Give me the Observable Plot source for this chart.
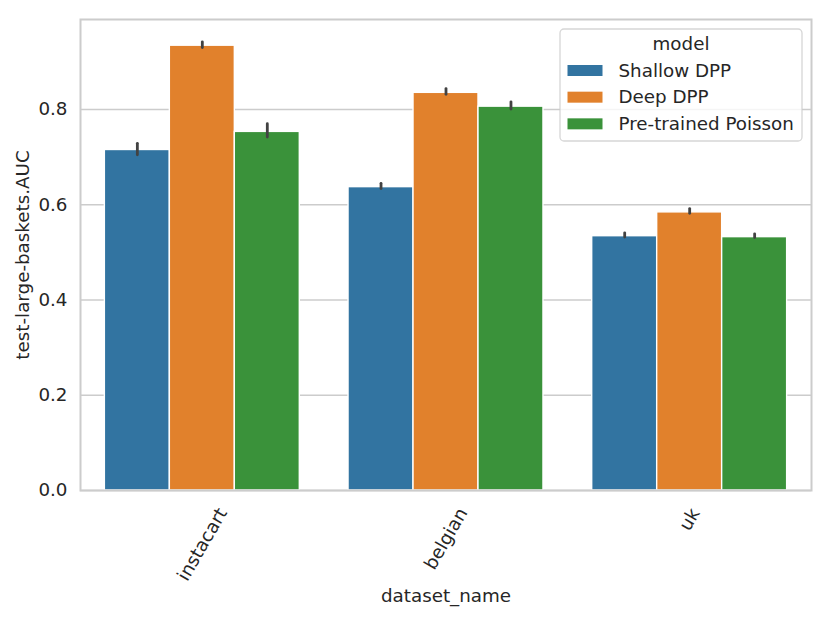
<!DOCTYPE html>
<html>
<head>
<meta charset="utf-8">
<script src="https://cdn.jsdelivr.net/npm/d3@7"></script>
<script src="https://cdn.jsdelivr.net/npm/@observablehq/plot@0.6"></script>
<style>
  body { margin: 0; background: #fff; font-family: "DejaVu Sans", sans-serif; }
  #wrap { position: relative; width: 831px; height: 620px; }
  #legend { position: absolute; left: 0; top: 0; pointer-events: none; }
</style>
</head>
<body>
<div id="wrap"></div>
<script>
// ---- data ----
const datasets = ["instacart", "belgian", "uk"];
const models = ["Shallow DPP", "Deep DPP", "Pre-trained Poisson"];
const modelColors = ["#3274a1", "#e1812c", "#3a923a"];

const aucShallow = [0.715, 0.637, 0.534];
const aucDeep = [0.934, 0.835, 0.584];
const aucPoisson = [0.753, 0.806, 0.532];

const ciLowShallow = [0.704, 0.633, 0.531];
const ciHighShallow = [0.728, 0.644, 0.540];
const ciLowDeep = [0.929, 0.831, 0.581];
const ciHighDeep = [0.941, 0.843, 0.591];
const ciLowPoisson = [0.741, 0.800, 0.530];
const ciHighPoisson = [0.769, 0.815, 0.538];

const yTicks = [0, 0.2, 0.4, 0.6, 0.8];
const xLabel = "dataset_name";
const yLabel = "test-large-baskets.AUC";
const legendTitle = "model";

// ---- table (seaborn-style dodge: groups of width 0.8 centred on the category index) ----
const values = [aucShallow, aucDeep, aucPoisson];
const lows = [ciLowShallow, ciLowDeep, ciLowPoisson];
const highs = [ciHighShallow, ciHighDeep, ciHighPoisson];
const groupWidth = 0.8;
const barW = groupWidth / models.length;
const rows = [];
datasets.forEach((ds, i) => {
  models.forEach((m, j) => {
    const x1 = i - groupWidth / 2 + j * barW;
    rows.push({
      dataset: ds, model: m,
      x1, x2: x1 + barW, xc: x1 + barW / 2,
      value: values[j][i], lo: lows[j][i], hi: highs[j][i]
    });
  });
});

const textColor = "#262626";
const gridColor = "#cccccc";
const fs = 18.3;

const chart = Plot.plot({
  width: 831,
  height: 620,
  marginLeft: 80,
  marginRight: 20,
  marginTop: 19,
  marginBottom: 130,
  style: { fontFamily: "DejaVu Sans", fontSize: fs + "px", color: textColor, background: "white" },
  x: { domain: [-0.5, datasets.length - 0.5] },
  y: { domain: [0, 0.989] },
  color: { domain: models, range: modelColors },
  marks: [
    Plot.gridY(yTicks, { stroke: gridColor, strokeOpacity: 1, strokeWidth: 1.6 }),
    Plot.rectY(rows, { x1: "x1", x2: "x2", y: "value", fill: "model", stroke: "white", strokeWidth: 1.4 }),
    Plot.ruleX(rows, { x: "xc", y1: "lo", y2: "hi", stroke: "#424242", strokeWidth: 2.8, strokeLinecap: "round" }),
    Plot.frame({ stroke: gridColor, strokeWidth: 2 }),
    Plot.axisY(yTicks, {
      tickSize: 0, tickPadding: 13, tickFormat: d3.format(".1f"), fontSize: fs,
      label: yLabel, labelAnchor: "center", labelArrow: "none", labelOffset: 65
    }),
    Plot.axisX(d3.range(datasets.length), {
      tickSize: 0, tickPadding: 12, tickFormat: i => datasets[i], tickRotate: -60, fontSize: fs,
      label: xLabel, labelAnchor: "center", labelArrow: "none", labelOffset: 111
    })
  ]
});

const wrap = document.getElementById("wrap");
wrap.appendChild(chart);

// matplotlib-style placement of rotated tick labels: rotated box centred on the tick, top at a fixed pad
(function fixTickLabels() {
  const svgRect = chart.getBoundingClientRect();
  const xs = chart.scale("x");
  const texts = chart.querySelectorAll('g[aria-label="x-axis tick label"] text');
  const topTarget = 504;
  texts.forEach((t, k) => {
    const r = t.getBoundingClientRect();
    const cx = (r.left + r.right) / 2 - svgRect.left;
    const top = r.top - svgRect.top;
    const dx = xs.apply(k) - cx;
    const dy = topTarget - top;
    const old = t.getAttribute("transform") || "";
    t.setAttribute("transform", `translate(${dx},${dy}) ` + old);
  });
})();

// legend (matplotlib-style, upper right inside the axes)
(function legend() {
  const svg = d3.select(wrap).append("svg")
    .attr("id", "legend").attr("width", 831).attr("height", 620)
    .style("font-family", "DejaVu Sans").style("font-size", fs + "px");
  svg.append("rect")
    .attr("x", 560).attr("y", 29).attr("width", 242).attr("height", 112)
    .attr("rx", 4).attr("fill", "white").attr("fill-opacity", 0.8)
    .attr("stroke", gridColor).attr("stroke-opacity", 0.8).attr("stroke-width", 1.3);
  svg.append("text").attr("x", 681).attr("y", 49.5).attr("text-anchor", "middle")
    .attr("fill", textColor).text(legendTitle);
  models.forEach((m, j) => {
    const top = 65 + j * 26.67;
    svg.append("rect").attr("x", 567.5).attr("y", top).attr("width", 35).attr("height", 11)
      .attr("fill", modelColors[j]);
    svg.append("text").attr("x", 618.5).attr("y", top + 11.7).attr("fill", textColor).text(m);
  });
})();
</script>
</body>
</html>
